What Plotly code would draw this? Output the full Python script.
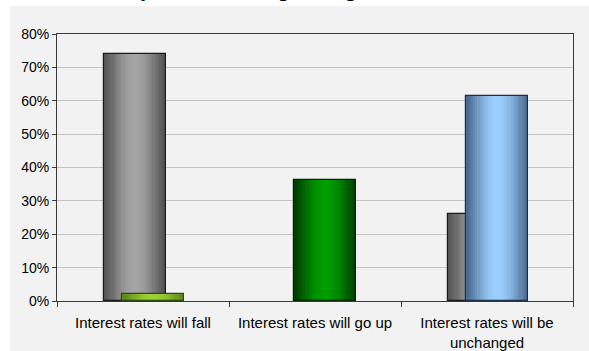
import math
import plotly.graph_objects as go

# Survey answers and shares (percent)
categories = ["Interest rates will fall", "Interest rates will go up",
              "Interest rates will be<br>unchanged"]
series_a = [74.0, 0.0, 26.0]          # grey series
series_b = [2.2, 36.3, 61.5]          # coloured series (one colour per answer)
y_ticks = [0, 10, 20, 30, 40, 50, 60, 70, 80]
y_tick_labels = [f"{v}%" for v in y_ticks]
title_text = "Expectations regarding interest rates"

# Cylinder-like horizontal shading: (edge colour, centre colour)
grey_shade = ((72, 72, 72), (164, 164, 164))
b_shades = [((84, 124, 22), (156, 208, 52)),
            ((0, 52, 0), (0, 156, 0)),
            ((62, 92, 128), (156, 206, 255))]
a_outline = "#1a1a1a"
b_outlines = ["#2e4a0c", "#002800", "#1c2f45"]

BAR_W = 0.36
OFF_A = -0.228
OFF_B = -0.12
N_STRIPS = 28


def shade(pair, t):
    f = math.sin(math.pi * (0.08 + 0.84 * t)) ** 1.6
    lo, hi = pair
    return "rgb({},{},{})".format(*[round(l + (h - l) * f) for l, h in zip(lo, hi)])


fig = go.Figure()


def add_series(values, shades, outline, offset):
    sw = BAR_W / N_STRIPS
    for i in range(N_STRIPS):
        t = (i + 0.5) / N_STRIPS
        colors = [shade(s, t) for s in shades]
        fig.add_trace(go.Bar(x=categories, y=values, offset=offset + i * sw,
                             width=sw * 1.35 if i < N_STRIPS - 1 else sw,
                             marker=dict(color=colors, line=dict(width=0)),
                             showlegend=False, hoverinfo="skip"))
    # outline only where a bar actually exists
    widths = [1.2 if v > 0 else 0 for v in values]
    fig.add_trace(go.Bar(x=categories, y=values, offset=offset, width=BAR_W,
                         marker=dict(color="rgba(0,0,0,0)",
                                     line=dict(color=outline, width=widths)),
                         showlegend=False, hoverinfo="skip"))


add_series(series_a, [grey_shade] * 3, a_outline, OFF_A)
add_series(series_b, b_shades, b_outlines, OFF_B)

L, R, T, B = 57, 16, 34, 50
W, H = 589, 351
pw, ph = W - L - R, H - T - B

# light grey chart area behind everything
fig.add_shape(type="rect", xref="paper", yref="paper", layer="below",
              x0=(10 - L) / pw, x1=(W - L) / pw,
              y0=-(B) / ph, y1=(H - B - 6) / ph,
              fillcolor="#f2f2f2", line=dict(width=0))

fig.add_annotation(text=f"<b>{title_text}</b>", xref="paper", yref="paper",
                   x=(307 - L) / pw, y=(H - B - 3) / ph, xanchor="center",
                   yanchor="bottom", showarrow=False,
                   font=dict(family="Arial, Liberation Sans", size=22, color="#000000"))

fig.update_layout(
    width=W, height=H, barmode="overlay", bargap=0,
    margin=dict(l=L, r=R, t=T, b=B, autoexpand=False),
    paper_bgcolor="#ffffff", plot_bgcolor="#f2f2f2",
    font=dict(family="Arial, Liberation Sans", size=12, color="#000000"),
)
fig.update_xaxes(showline=True, linecolor="#3a3a3a", linewidth=1, mirror=True,
                 ticks="outside", tickson="boundaries", ticklen=5,
                 tickcolor="#3a3a3a", showgrid=False, ticklabelstandoff=8,
                 automargin=False, tickfont=dict(size=15))
fig.update_yaxes(range=[0, 80], tickvals=y_ticks, ticktext=y_tick_labels,
                 showline=True, linecolor="#3a3a3a", linewidth=1, mirror=True,
                 ticks="outside", ticklen=4, tickcolor="#3a3a3a",
                 showgrid=True, gridcolor="#c4c4c4", gridwidth=1.2,
                 zeroline=False, automargin=False, tickfont=dict(size=14))

fig.write_html("out.html")
